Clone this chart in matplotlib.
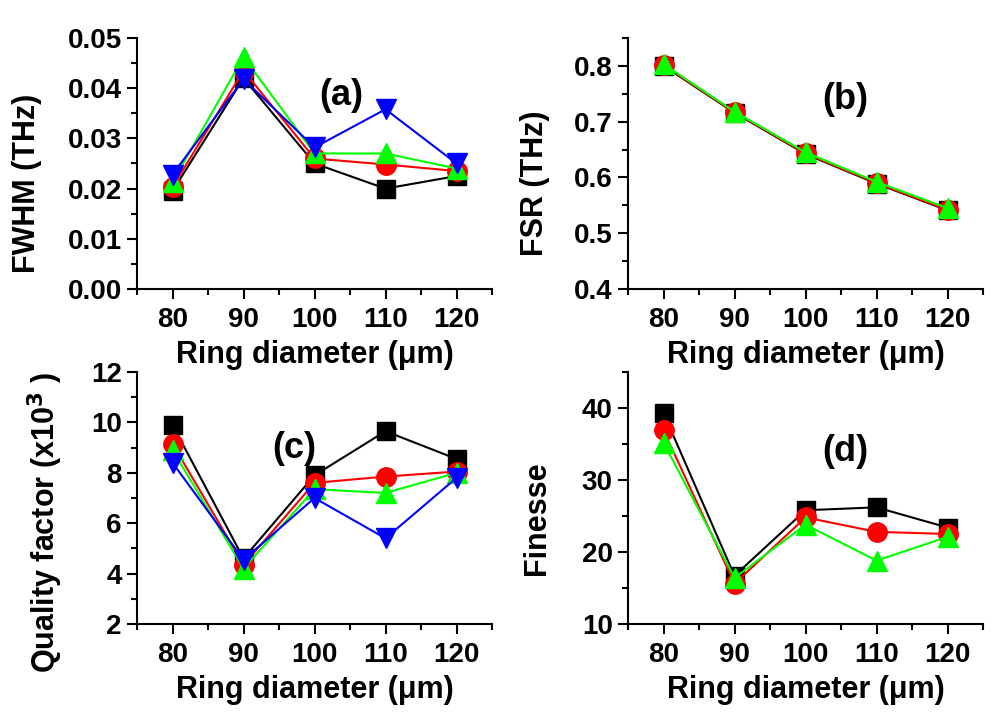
import matplotlib
matplotlib.use("Agg")
import matplotlib.pyplot as plt
from matplotlib.ticker import MultipleLocator, FormatStrFormatter

plt.rcParams['font.family'] = ['Liberation Sans', 'DejaVu Sans']
plt.rcParams['font.weight'] = 'bold'
plt.rcParams['mathtext.default'] = 'bf'

diameter = [80, 90, 100, 110, 120]

fwhm_black = [0.0195, 0.042, 0.025, 0.020, 0.0225]
fwhm_red = [0.0203, 0.0435, 0.026, 0.0248, 0.0235]
fwhm_green = [0.0213, 0.0462, 0.027, 0.027, 0.024]
fwhm_blue = [0.0228, 0.0418, 0.0282, 0.0358, 0.025]

fsr_black = [0.800, 0.716, 0.642, 0.589, 0.541]
fsr_red = [0.801, 0.717, 0.643, 0.590, 0.542]
fsr_green = [0.803, 0.718, 0.645, 0.592, 0.545]

q_black = [9.9, 4.6, 7.9, 9.65, 8.55]
q_red = [9.15, 4.35, 7.6, 7.85, 8.05]
q_green = [8.9, 4.2, 7.35, 7.2, 8.0]
q_blue = [8.4, 4.55, 7.0, 5.4, 7.8]

fin_black = [39.3, 16.7, 25.8, 26.2, 23.4]
fin_red = [36.9, 15.6, 24.8, 22.8, 22.5]
fin_green = [35.2, 16.4, 23.8, 18.8, 22.1]

fig = plt.figure(figsize=(10, 7.28), dpi=100)

def make_ax(left, bottom, right, top):
    return fig.add_axes([left / 1000, 1 - bottom / 728, (right - left) / 1000, (bottom - top) / 728])

axa = make_ax(137, 289, 492, 38)
axb = make_ax(628, 289, 983, 38)
axc = make_ax(137, 624, 492, 372)
axd = make_ax(628, 624, 983, 372)

styles = [('black', 's', 13), ('#ff0000', 'o', 14), ('#00ff00', '^', 15), ('#0000ff', 'v', 15)]

def plot_series(ax, series):
    for (c, m, ms), y in zip(styles, series):
        ax.plot(diameter, y, color=c, marker=m, markersize=ms, lw=1.5,
                markeredgecolor=c, clip_on=False)

plot_series(axa, [fwhm_black, fwhm_red, fwhm_green, fwhm_blue])
plot_series(axb, [fsr_black, fsr_red, fsr_green])
plot_series(axc, [q_black, q_red, q_green, q_blue])
plot_series(axd, [fin_black, fin_red, fin_green])

cfg = [
    (axa, (0, 0.05), 0.01, 0.005, 'FWHM (THz)', '(a)', (103.8, 0.0386), '%.2f'),
    (axb, (0.4, 0.85), 0.1, 0.05, 'FSR (THz)', '(b)', (105.6, 0.74), '%.1f'),
    (axc, (2, 12), 2, 1, 'Quality factor (x10$^3$ )', '(c)', (97.2, 8.98), '%d'),
    (axd, (10, 45), 10, 5, 'Finesse', '(d)', (105.6, 33.9), '%d'),
]

for ax, ylim, major, minor, ylabel, tag, tpos, fmt in cfg:
    ax.set_xlim(75, 125)
    ax.set_ylim(*ylim)
    ax.set_xticks(diameter)
    ax.xaxis.set_minor_locator(MultipleLocator(5))
    ax.yaxis.set_major_locator(MultipleLocator(major))
    ax.yaxis.set_minor_locator(MultipleLocator(minor))
    ax.yaxis.set_major_formatter(FormatStrFormatter(fmt))
    ax.spines['top'].set_visible(False)
    ax.spines['right'].set_visible(False)
    for s in ('left', 'bottom'):
        ax.spines[s].set_linewidth(1.5)
    ax.tick_params(which='major', direction='out', length=7, width=1.5, labelsize=20, pad=4)
    ax.tick_params(axis='x', which='major', pad=6)
    ax.tick_params(which='minor', direction='out', length=4, width=1.5)
    for lab in ax.get_xticklabels() + ax.get_yticklabels():
        lab.set_fontweight('bold')
    ax.set_xlabel('Ring diameter (\u03bcm)', fontsize=22, fontweight='bold', labelpad=5)
    ax.set_ylabel(ylabel, fontsize=22, fontweight='bold')
    ax.text(tpos[0], tpos[1], tag, fontsize=26, fontweight='bold', ha='center', va='center')

axa.yaxis.set_label_coords(-0.268, 0.42)
axc.yaxis.set_label_coords(-0.203, 0.405)
axb.yaxis.set_label_coords(-0.22, 0.42)
axd.yaxis.set_label_coords(-0.214, 0.42)

fig.savefig('out.png', dpi=100)
